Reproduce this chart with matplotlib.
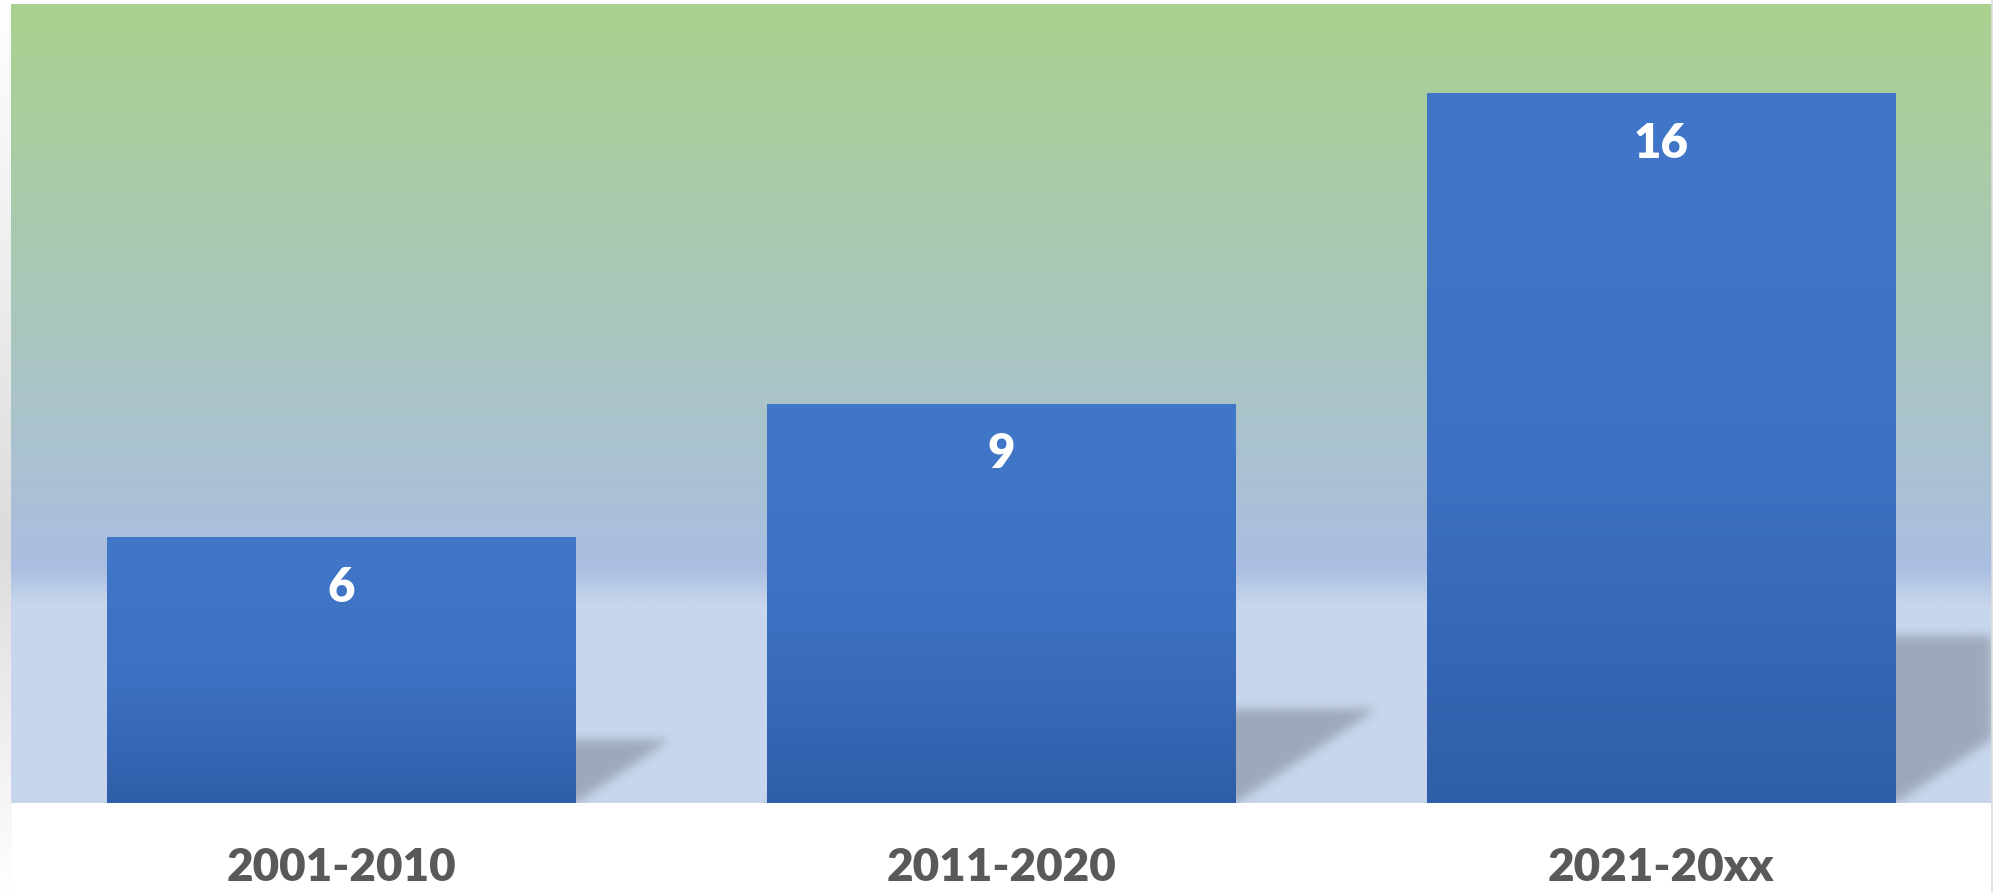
import matplotlib
matplotlib.use('Agg')
import matplotlib.pyplot as plt
import numpy as np
from matplotlib.colors import to_rgb

periods = ['2001-2010', '2011-2020', '2021-20xx']
counts = [6, 9, 16]

plt.rcParams['font.family'] = ['Lato', 'DejaVu Sans']

W, H, DPI = 2001, 893, 100
fig = plt.figure(figsize=(W / DPI, H / DPI), dpi=DPI)
fig.patch.set_facecolor('white')

# axes box in pixels
x0, x1, y_top, y_bot = 11, 1991, 4, 803
ytop_val = 18.0
ax = fig.add_axes([x0 / W, (H - y_bot) / H, (x1 - x0) / W, (y_bot - y_top) / H])
for s in ax.spines.values():
    s.set_visible(False)
ax.set_yticks([])


def vgrad(stops, n=800):
    # vertical gradient, stops are (fraction from top, colour)
    pos = np.array([p for p, _ in stops])
    cols = np.array([to_rgb(c) for _, c in stops])
    t = np.linspace(0, 1, n)
    img = np.stack([np.interp(t, pos, cols[:, k]) for k in range(3)], axis=1)
    return img[:, None, :]


# backdrop: green at top fading into blue, then a pale floor
bg = vgrad([(0.0, '#a9d18e'), (0.705, '#aabee1'), (0.752, '#c7d6ec'), (1.0, '#c7d6ec')])
ax.imshow(bg, extent=[0, 1, 0, 1], transform=ax.transAxes, aspect='auto', zorder=0)

xs = np.arange(len(counts))
width = 0.71
bars = ax.bar(xs, counts, width=width, color='#3d6fc0', zorder=3)

# soft cast shadows to the right of each bar
rise, reach = 0.235, 0.0237
ny, nx = 799, 1980
gx = np.linspace(-0.5, 2.5, nx)[None, :]
gy = np.linspace(ytop_val, 0, ny)[:, None]
mask = np.zeros((ny, nx))
for xc, v in zip(xs, counts):
    hs = rise * v
    t = np.clip(gy / hs, 0, None)
    left = xc - width / 2 + t * reach * v
    right = xc + width / 2 + t * reach * v
    mask = np.maximum(mask, ((gy <= hs) & (gx >= left) & (gx <= right)).astype(float))
sig = 5
k = np.exp(-0.5 * (np.arange(-3 * sig, 3 * sig + 1) / sig) ** 2)
k /= k.sum()
mask = np.apply_along_axis(lambda r: np.convolve(r, k, mode='same'), 1, mask)
mask = np.apply_along_axis(lambda c: np.convolve(c, k, mode='same'), 0, mask)
shadow = np.zeros((ny, nx, 4))
shadow[..., 3] = 0.21 * mask
ax.imshow(shadow, extent=[0, 1, 0, 1], transform=ax.transAxes, aspect='auto', zorder=1)

# gradient fill inside bars
bar_grad = vgrad([(0.0, '#4177c9'), (0.55, '#3d70c0'), (1.0, '#2f5ea9')], n=300)
for b in bars:
    im = ax.imshow(bar_grad, extent=[b.get_x(), b.get_x() + b.get_width(), 0, b.get_height()],
                   aspect='auto', zorder=3.5)
    im.set_clip_path(b)

for xc, v in zip(xs, counts):
    ax.annotate(str(v), (xc, v), xytext=(0, -29), textcoords='offset pixels',
                ha='center', va='top', color='white', fontsize=34, fontweight='heavy', zorder=5)

ax.set_xlim(-0.5, 2.5)
ax.set_ylim(0, ytop_val)
ax.set_xticks(xs, periods)
ax.tick_params(axis='x', length=0, pad=32, labelsize=33, labelcolor='#595959')
for lab in ax.get_xticklabels():
    lab.set_fontweight('heavy')

# grey strip down the left edge and a thin line on the right
strip = fig.add_axes([0, 0, x0 / W, 1], zorder=-1)
strip.imshow(vgrad([(0.0, '#ffffff'), (0.61, '#dcdcdc'), (1.0, '#ffffff')]),
             extent=[0, 1, 0, 1], aspect='auto')
strip.axis('off')
fig.add_artist(plt.Line2D([1992 / W] * 2, [0, 1], color='#dddddd', lw=1.2))

plt.savefig('out.png', dpi=DPI)
plt.close(fig)
